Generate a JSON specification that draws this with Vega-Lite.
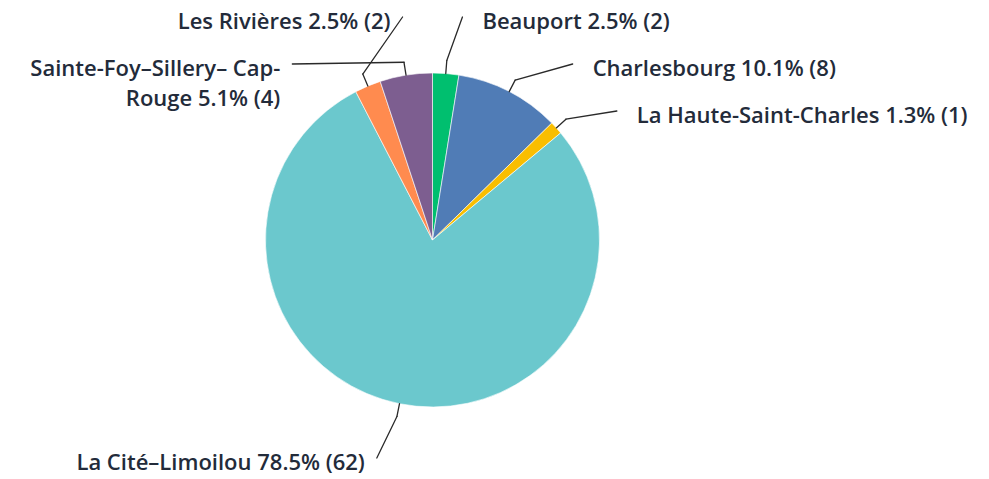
{
  "$schema": "https://vega.github.io/schema/vega-lite/v6.json",
  "width": 989,
  "height": 479,
  "padding": 0,
  "autosize": {"type": "none"},
  "background": "white",
  "config": {"view": {"stroke": null}},
  "data": {
    "values": [
      {"district": "Beauport", "count": 2, "label": "Beauport 2.5% (2)"},
      {"district": "Charlesbourg", "count": 8, "label": "Charlesbourg 10.1% (8)"},
      {"district": "La Haute-Saint-Charles", "count": 1, "label": "La Haute-Saint-Charles 1.3% (1)"},
      {"district": "La Cité–Limoilou", "count": 62, "label": "La Cité–Limoilou 78.5% (62)"},
      {"district": "Les Rivières", "count": 2, "label": "Les Rivières 2.5% (2)"},
      {"district": "Sainte-Foy–Sillery– Cap-Rouge", "count": 4, "label": "Sainte-Foy–Sillery– Cap-\nRouge 5.1% (4)"}
    ]
  },
  "transform": [
    {"window": [{"op": "row_number", "as": "i"}]},
    {"joinaggregate": [{"op": "sum", "field": "count", "as": "total"}]},
    {"stack": "count", "groupby": [], "sort": [{"field": "i", "order": "ascending"}], "as": ["s0", "s1"]},
    {"calculate": "(datum.s0 + datum.s1) / 2 / datum.total * 2 * PI", "as": "mid"},
    {"calculate": "sin(datum.mid) >= 0 ? 1 : -1", "as": "side"},
    {"calculate": "cos(datum.mid) >= 0 ? 'top' : 'bottom'", "as": "half"},
    {"window": [{"op": "row_number", "as": "rank"}], "groupby": ["side", "half"], "sort": [{"field": "mid", "order": "ascending"}]},
    {"calculate": "167 * sin(datum.mid)", "as": "x0"},
    {"calculate": "-167 * cos(datum.mid)", "as": "y0"},
    {"calculate": "180 * sin(datum.mid)", "as": "x1"},
    {"calculate": "-180 * cos(datum.mid)", "as": "y1"},
    {"calculate": "datum.half === 'top' ? -223 + 47 * (datum.rank - 1) : 218 - 47 * (datum.rank - 1)", "as": "y2"},
    {"calculate": "datum.side * sqrt(max(225 * 225 - datum.y2 * datum.y2, 0))", "as": "x2"},
    {"calculate": "datum.x2 + (datum.side > 0 ? 20 : -12)", "as": "lx"},
    {"calculate": "datum.y2 - 5", "as": "ly"}
  ],
  "layer": [
    {
      "mark": {"type": "arc", "radius": 167, "stroke": "white", "strokeWidth": 0.6},
      "encoding": {
        "x": {"datum": 0, "type": "quantitative", "scale": {"domain": [-432.5, 556.5], "nice": false, "zero": false}, "axis": null},
        "y": {"datum": 0, "type": "quantitative", "scale": {"domain": [-240, 239], "nice": false, "zero": false, "reverse": true}, "axis": null},
        "theta": {"field": "s0", "type": "quantitative", "scale": {"domain": [0, 79], "range": [0, 6.283185307179586], "nice": false}},
        "theta2": {"field": "s1"},
        "color": {
          "field": "district", "type": "nominal", "legend": null,
          "scale": {
            "domain": ["Beauport", "Charlesbourg", "La Haute-Saint-Charles", "La Cité–Limoilou", "Les Rivières", "Sainte-Foy–Sillery– Cap-Rouge"],
            "range": ["#00bf6f", "#507cb6", "#f9be00", "#6bc8cd", "#ff8b4f", "#7d5e90"]
          }
        }
      }
    },
    {
      "mark": {"type": "rule", "color": "#2a2a2a", "strokeWidth": 1.3, "strokeCap": "round"},
      "encoding": {
        "x": {"field": "x0", "type": "quantitative", "axis": null},
        "y": {"field": "y0", "type": "quantitative", "axis": null},
        "x2": {"field": "x1"},
        "y2": {"field": "y1"}
      }
    },
    {
      "mark": {"type": "rule", "color": "#2a2a2a", "strokeWidth": 1.3, "strokeCap": "round"},
      "encoding": {
        "x": {"field": "x1", "type": "quantitative", "axis": null},
        "y": {"field": "y1", "type": "quantitative", "axis": null},
        "x2": {"field": "x2"},
        "y2": {"field": "y2"}
      }
    },
    {
      "transform": [{"filter": "datum.side > 0"}],
      "mark": {"type": "text", "align": "left", "baseline": "top", "font": "Open Sans", "fontSize": 22, "fontWeight": 600, "color": "#232b3a", "lineBreak": "\n", "lineHeight": 30},
      "encoding": {
        "x": {"field": "lx", "type": "quantitative", "axis": null},
        "y": {"field": "ly", "type": "quantitative", "axis": null},
        "text": {"field": "label", "type": "nominal"}
      }
    },
    {
      "transform": [{"filter": "datum.side < 0"}],
      "mark": {"type": "text", "align": "right", "baseline": "top", "font": "Open Sans", "fontSize": 22, "fontWeight": 600, "color": "#232b3a", "lineBreak": "\n", "lineHeight": 30},
      "encoding": {
        "x": {"field": "lx", "type": "quantitative", "axis": null},
        "y": {"field": "ly", "type": "quantitative", "axis": null},
        "text": {"field": "label", "type": "nominal"}
      }
    }
  ]
}
